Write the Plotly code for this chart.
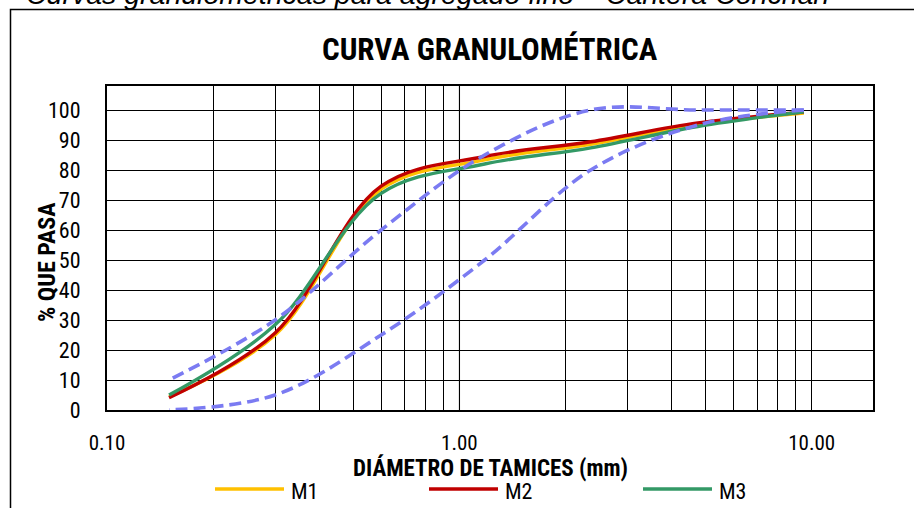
import plotly.graph_objects as go

# ---- data ----
sieves_mm = [9.5, 4.75, 2.36, 1.18, 0.6, 0.3, 0.15]
m1 = [99.0, 95.2, 88.6, 83.4, 73.6, 25.0, 4.4]
m2 = [99.3, 95.7, 89.4, 84.5, 74.6, 25.7, 4.1]
m3 = [99.4, 94.5, 87.4, 82.0, 72.2, 28.4, 5.0]
limit_upper = [100, 100, 100, 85, 60, 30, 10]
limit_lower = [100, 95, 80, 50, 25, 5, 0]
series_names = ["M1", "M2", "M3"]
series_colors = ["#FFC000", "#C00000", "#339966"]
x_tickvals = [0.1, 1, 10]
x_ticktext = ["0.10", "1.00", "10.00"]
x_minor = [0.2, 0.3, 0.4, 0.5, 0.6, 0.7, 0.8, 0.9, 2, 3, 4, 5, 6, 7, 8, 9]
y_ticks = list(range(0, 101, 10))

W, H = 914, 508
L, R, T, B = 107, 873, 86, 410
PW, PH = R - L, B - T


def px(x):
    return (x - L) / PW


def py(y):
    return (B - y) / PH


NARROW = "Liberation Sans Narrow, Arial Narrow, Roboto Condensed, Liberation Sans, sans-serif"

fig = go.Figure()
for name, vals, col in zip(series_names, [m1, m2, m3], series_colors):
    fig.add_trace(go.Scatter(x=sieves_mm, y=vals, mode="lines", name=name,
                             line=dict(color=col, width=3.4, shape="spline", smoothing=1),
                             showlegend=False))
for vals in [limit_upper, limit_lower]:
    fig.add_trace(go.Scatter(x=sieves_mm, y=vals, mode="lines", showlegend=False,
                             line=dict(color="#7B7BF2", width=3.6, dash="12px,6px",
                                       shape="spline", smoothing=1)))

shapes = []
# gray major gridline at 1.0
shapes.append(dict(type="line", xref="x", yref="paper", x0=1, x1=1, y0=0, y1=1,
                   line=dict(color="#BFBFBF", width=1.5), layer="below"))
# outer frame
shapes.append(dict(type="rect", xref="paper", yref="paper",
                   x0=px(10.5), x1=px(W + 20), y0=py(9.5), y1=py(H + 20),
                   line=dict(color="black", width=1.5), layer="below"))

annotations = [
    dict(text="<i>Curvas granulométricas para agregado fino – Cantera Conchán</i>",
         xref="paper", yref="paper", x=px(24), y=py(12), xanchor="left", yanchor="bottom",
         showarrow=False, font=dict(family="Liberation Sans, Arial, sans-serif", size=28.5, color="black")),
    dict(text="<b>CURVA GRANULOMÉTRICA</b>", xref="paper", yref="paper",
         x=px(490), y=py(50), xanchor="center", yanchor="middle", showarrow=False,
         font=dict(family=NARROW, size=31, color="black")),
    dict(text="<b>DIÁMETRO DE TAMICES (mm)</b>", xref="paper", yref="paper",
         x=px(490), y=py(468), xanchor="center", yanchor="middle", showarrow=False,
         font=dict(family=NARROW, size=23, color="black")),
    dict(text="<b>% QUE PASA</b>", xref="paper", yref="paper", textangle=-90,
         x=px(47), y=py(262), xanchor="center", yanchor="middle", showarrow=False,
         font=dict(family=NARROW, size=24, color="black")),
]

# legend drawn manually
leg_x0 = [215, 429, 643]
for i, (name, col) in enumerate(zip(series_names, series_colors)):
    shapes.append(dict(type="line", xref="paper", yref="paper",
                       x0=px(leg_x0[i]), x1=px(leg_x0[i] + 69), y0=py(489), y1=py(489),
                       line=dict(color=col, width=3.4)))
    annotations.append(dict(text=name, xref="paper", yref="paper",
                            x=px(leg_x0[i] + 74), y=py(491), xanchor="left", yanchor="middle",
                            showarrow=False, font=dict(family=NARROW, size=22, color="black")))

fig.update_layout(
    width=W, height=H,
    margin=dict(l=L, r=W - R, t=T, b=H - B),
    paper_bgcolor="white", plot_bgcolor="white",
    showlegend=False,
    shapes=shapes, annotations=annotations,
    xaxis=dict(type="log", range=[-1, 1.174], tickvals=x_tickvals, ticktext=x_ticktext,
               showgrid=True, gridcolor="black", gridwidth=1,
               minor=dict(tickvals=x_minor, showgrid=True, gridcolor="black", gridwidth=1, ticks=""),
               showline=True, linecolor="black", linewidth=2, mirror=True,
               ticks="", ticklabelstandoff=13, zeroline=False,
               tickfont=dict(family=NARROW, size=21, color="black")),
    yaxis=dict(range=[0, 108], tickvals=y_ticks,
               showgrid=True, gridcolor="black", gridwidth=1,
               showline=True, linecolor="black", linewidth=2, mirror=True,
               ticks="", ticklabelstandoff=20, zeroline=False,
               tickfont=dict(family=NARROW, size=22, color="black")),
)

fig.write_html("out.html")
